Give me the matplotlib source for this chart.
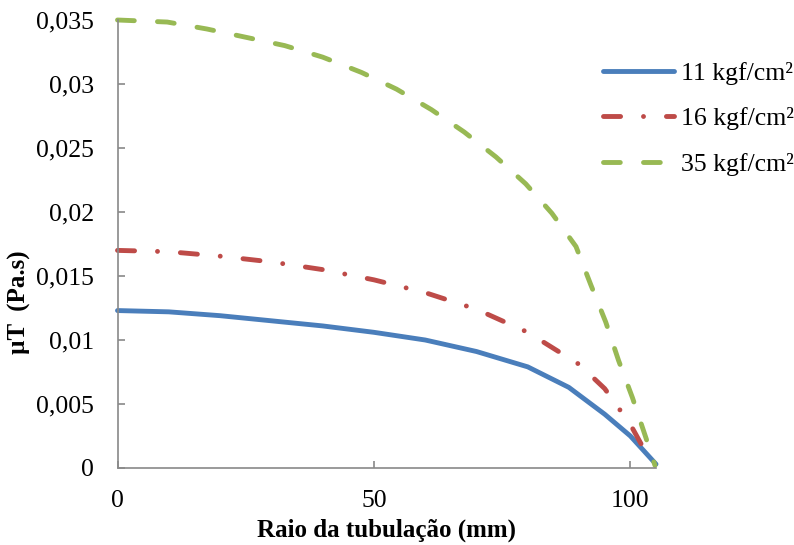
import matplotlib
matplotlib.use('Agg')
import matplotlib.pyplot as plt
from matplotlib.ticker import FuncFormatter, MultipleLocator

plt.rcParams['font.family'] = ['Liberation Serif', 'DejaVu Serif']
plt.rcParams['lines.scale_dashes'] = False

# raio da tubulação (mm) e viscosidade uT (Pa.s)
x_11 = [0, 10, 20, 30, 40, 50, 60, 70, 80, 88, 95, 100, 105]
y_11 = [0.0123, 0.0122, 0.0119, 0.0115, 0.0111, 0.0106, 0.0100,
        0.0091, 0.0079, 0.0063, 0.0042, 0.0025, 0.0003]

x_16 = [0, 10, 20, 30, 40, 50, 60, 70, 80, 90, 95, 100, 104]
y_16 = [0.0170, 0.0169, 0.01655, 0.0161, 0.0155, 0.0147, 0.0137,
        0.0124, 0.0106, 0.0081, 0.0062, 0.0034, 0.0005]

x_35 = [0, 9.7, 17.4, 24.8, 32.6, 40, 47.6, 54.4, 61.2, 67.6, 73.8,
        79.6, 84.7, 89.4, 92.3, 95.2, 97.7, 100.4, 103, 104.8]
y_35 = [0.0350, 0.03484, 0.0343, 0.03367, 0.0330, 0.0321, 0.0309,
        0.0296, 0.0280, 0.02625, 0.0243, 0.0222, 0.0199, 0.0173,
        0.0143, 0.0114, 0.0084, 0.0055, 0.0024, 0.0002]

labels = ['11 kgf/cm²', '16 kgf/cm²', '35 kgf/cm²']


def fmt(v, pos):
    if abs(v) < 1e-12:
        return '0'
    return ('%g' % v).replace('.', ',')


fig = plt.figure(figsize=(7.94, 5.45), dpi=100)
ax = fig.add_axes([117.5 / 794, 1 - 468 / 545, (656 - 117.5) / 794, 448 / 545])

ax.plot(x_11, y_11, color='#4A7EBB', lw=3.5, solid_capstyle='round',
        label=labels[0], clip_on=False)
ax.plot(x_16, y_16, color='#BE4B48', lw=3.5, dash_capstyle='round',
        dashes=(12.3, 16.5, 0.01, 16.5), label=labels[1], clip_on=False)
ax.plot(x_35, y_35, color='#98B954', lw=3.5, dash_capstyle='round',
        dashes=(12.1, 16.7), label=labels[2], clip_on=False)

ax.set_xlim(0, 105)
ax.set_ylim(0, 0.035)
ax.xaxis.set_major_locator(MultipleLocator(50))
ax.yaxis.set_major_locator(MultipleLocator(0.005))
ax.yaxis.set_major_formatter(FuncFormatter(fmt))
ax.xaxis.set_major_formatter(FuncFormatter(fmt))

for s in ['top', 'right']:
    ax.spines[s].set_visible(False)
for s in ['left', 'bottom']:
    ax.spines[s].set_color('#898989')
    ax.spines[s].set_linewidth(1.2)

ax.tick_params(axis='both', direction='in', length=5, width=1.2,
               color='#898989', labelsize=18.5)
ax.tick_params(axis='x', pad=16)
ax.tick_params(axis='y', pad=17)

ax.set_xlabel('Raio da tubulação (mm)', fontsize=18, fontweight='bold')
ax.xaxis.set_label_coords(0.5, -0.112)
ax.set_ylabel('µT  (Pa.s)', fontsize=18, fontweight='bold')
ax.yaxis.set_label_coords(-0.16, 0.37)

ax.legend(loc='upper left', bbox_to_anchor=(603 / 794, 1 - 62 / 545),
          bbox_transform=fig.transFigure, frameon=False, fontsize=18.5,
          borderpad=0, borderaxespad=0, handlelength=2.77,
          handletextpad=0.27, labelspacing=0.875)

fig.savefig('out.png', dpi=100)
